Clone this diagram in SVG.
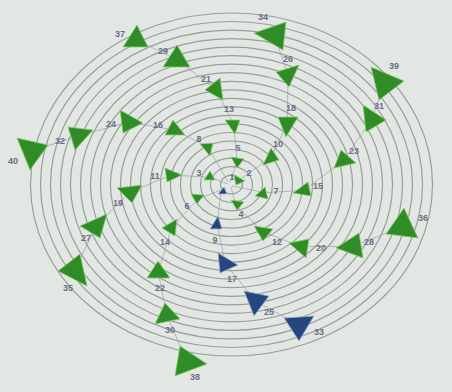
<svg xmlns="http://www.w3.org/2000/svg" width="452" height="392" viewBox="0 0 452 392">
<style>
.ring{fill:none;stroke:#999e9a;stroke-width:1.2}
.con{fill:none;stroke:#9a9eac;stroke-width:0.7}
.g{fill:#2f8c26;stroke:#86d070;stroke-width:0.8;stroke-linejoin:round}
.b{fill:#27467f;stroke:#a5b4cc;stroke-width:0.8;stroke-linejoin:round}
text{font-family:"Liberation Sans",Arial,sans-serif;font-size:9px;font-weight:bold;fill:#6a6d86;text-anchor:middle;dominant-baseline:middle}
</style>
<rect width="452" height="392" fill="#e3e7e4"/>
<g id="rings">
<ellipse class="ring" cx="231.5" cy="184.5" rx="201" ry="171.5"/>
<ellipse class="ring" cx="231.5" cy="184.5" rx="191" ry="163"/>
<ellipse class="ring" cx="231.5" cy="184.5" rx="181" ry="154.4"/>
<ellipse class="ring" cx="231.5" cy="184.5" rx="171" ry="145.9"/>
<ellipse class="ring" cx="231.5" cy="184.5" rx="161" ry="137.4"/>
<ellipse class="ring" cx="231.5" cy="184.5" rx="151" ry="128.8"/>
<ellipse class="ring" cx="231.5" cy="184.5" rx="141" ry="120.3"/>
<ellipse class="ring" cx="231.5" cy="184.5" rx="131" ry="111.8"/>
<ellipse class="ring" cx="231.5" cy="184.5" rx="121" ry="103.2"/>
<ellipse class="ring" cx="231.5" cy="184.5" rx="111" ry="94.7"/>
<ellipse class="ring" cx="231.5" cy="184.5" rx="101" ry="86.2"/>
<ellipse class="ring" cx="231.5" cy="184.5" rx="91" ry="77.6"/>
<ellipse class="ring" cx="231.5" cy="184.5" rx="81" ry="69.1"/>
<ellipse class="ring" cx="231.5" cy="184.5" rx="71" ry="60.6"/>
<ellipse class="ring" cx="231.5" cy="184.5" rx="61" ry="52"/>
<ellipse class="ring" cx="231.5" cy="184.5" rx="51" ry="43.5"/>
<ellipse class="ring" cx="231.5" cy="184.5" rx="41" ry="35"/>
<ellipse class="ring" cx="231.5" cy="184.5" rx="31" ry="26.4"/>
<ellipse class="ring" cx="231.5" cy="184.5" rx="21" ry="17.9"/>
<ellipse class="ring" cx="231.5" cy="184.5" rx="11" ry="9.4"/>
</g>
<g id="connectors">
<polyline class="con" points="31.7,151 78.7,135.7 128.7,122 174.3,130 207.7,146.7 228,182"/>
<polyline class="con" points="136,39.7 176.7,59.7 216,89.3 233.7,124.3 237,161.7 230,182"/>
<polyline class="con" points="274.3,35 288,74.7 287.3,123.7 271,157.7 237.7,180.7"/>
<polyline class="con" points="384.7,83.3 371.7,119 343.7,160.3 304,190.3 264.7,192.7 232,186"/>
<polyline class="con" points="402.7,226.7 352.7,246.3 301.3,246.7 263.3,232 236,205.3 231,187"/>
<polyline class="con" points="299,325 255.7,301 225.3,263.7 217.3,224.3 221,192"/>
<polyline class="con" points="187.3,362 166.7,315.3 158.3,272.3 171.3,227.7 198.7,198.7 226,188"/>
<polyline class="con" points="75,270.3 95.7,226 130.3,192 171.3,175 210,177.3 228,184"/>
</g>
<g id="n40"><polygon class="g" points="17,138 48,145 30,170"/><text x="13" y="162">40</text></g>
<g id="n32"><polygon class="g" points="68,127 93,130 75,150"/><text x="60" y="142">32</text></g>
<g id="n24"><polygon class="g" points="120,110 143,123 123,133"/><text x="111" y="125">24</text></g>
<g id="n16"><polygon class="g" points="173,120 185,135 165,135"/><text x="158" y="126">16</text></g>
<g id="n8"><polygon class="g" points="200,144 213,143 210,156"/><text x="199" y="140">8</text></g>
<g id="n37"><polygon class="g" points="137,25 148,47 123,47"/><text x="120" y="35">37</text></g>
<g id="n29"><polygon class="g" points="177,45 190,67 163,67"/><text x="163" y="52">29</text></g>
<g id="n21"><polygon class="g" points="220,78 223,100 205,90"/><text x="206" y="80">21</text></g>
<g id="n13"><polygon class="g" points="225,120 240,120 235,134"/><text x="229" y="110">13</text></g>
<g id="n5"><polygon class="g" points="231,157 244,159 237,168"/><text x="238" y="149">5</text></g>
<g id="n34"><polygon class="g" points="254,33 286,22 283,50"/><text x="263" y="18">34</text></g>
<g id="n26"><polygon class="g" points="276,72 299,65 289,87"/><text x="288" y="60">26</text></g>
<g id="n18"><polygon class="g" points="278,117 298,117 286,137"/><text x="291" y="109">18</text></g>
<g id="n10"><polygon class="g" points="271,148 279,160 263,165"/><text x="278" y="145">10</text></g>
<g id="n2"><polygon class="g" points="234,175 245,181 236,185"/><text x="249" y="174">2</text></g>
<g id="n39"><polygon class="g" points="371,67 404,81 379,100"/><text x="394" y="67">39</text></g>
<g id="n31"><polygon class="g" points="363,105 386,120 366,132"/><text x="379" y="107">31</text></g>
<g id="n23"><polygon class="g" points="341,150 356,163 334,168"/><text x="354" y="152">23</text></g>
<g id="n15"><polygon class="g" points="308,182 311,196 293,193"/><text x="318" y="187">15</text></g>
<g id="n7"><polygon class="g" points="265,187 268,199 255,196"/><text x="276" y="192">7</text></g>
<g id="n36"><polygon class="g" points="404,208 418,238 386,234"/><text x="423" y="219">36</text></g>
<g id="n28"><polygon class="g" points="359,233 363,258 336,248"/><text x="369" y="243">28</text></g>
<g id="n20"><polygon class="g" points="289,243 309,239 306,258"/><text x="321" y="249">20</text></g>
<g id="n12"><polygon class="g" points="254,226 273,229 263,241"/><text x="277" y="243">12</text></g>
<g id="n4"><polygon class="g" points="231,200 244,202 237,210"/><text x="241" y="215">4</text></g>
<g id="n33"><polygon class="b" points="284,318 314,316 299,341"/><text x="319" y="333">33</text></g>
<g id="n25"><polygon class="b" points="244,291 269,296 254,316"/><text x="269" y="313">25</text></g>
<g id="n17"><polygon class="b" points="218,253 238,265 220,273"/><text x="232" y="280">17</text></g>
<g id="n9"><polygon class="b" points="210,229 218,216 222,229"/><text x="215" y="241">9</text></g>
<g id="n1"><polygon class="b" points="218,194 224,187 227,194"/><text x="232" y="178">1</text></g>
<g id="n38"><polygon class="g" points="180,346 207,364 175,376"/><text x="195" y="378">38</text></g>
<g id="n30"><polygon class="g" points="165,303 180,319 155,324"/><text x="170" y="331">30</text></g>
<g id="n22"><polygon class="g" points="158,261 170,278 147,278"/><text x="160" y="289">22</text></g>
<g id="n14"><polygon class="g" points="162,228 177,219 175,236"/><text x="165" y="243">14</text></g>
<g id="n6"><polygon class="g" points="191,194 204,195 197,204"/><text x="187" y="207">6</text></g>
<g id="n35"><polygon class="g" points="58,271 80,254 87,286"/><text x="68" y="289">35</text></g>
<g id="n27"><polygon class="g" points="80,226 107,214 100,238"/><text x="86" y="239">27</text></g>
<g id="n19"><polygon class="g" points="117,188 142,185 132,203"/><text x="118" y="204">19</text></g>
<g id="n11"><polygon class="g" points="165,168 182,175 167,182"/><text x="155" y="177">11</text></g>
<g id="n3"><polygon class="g" points="210,171 215,180 204,180"/><text x="199" y="174">3</text></g>
</svg>
